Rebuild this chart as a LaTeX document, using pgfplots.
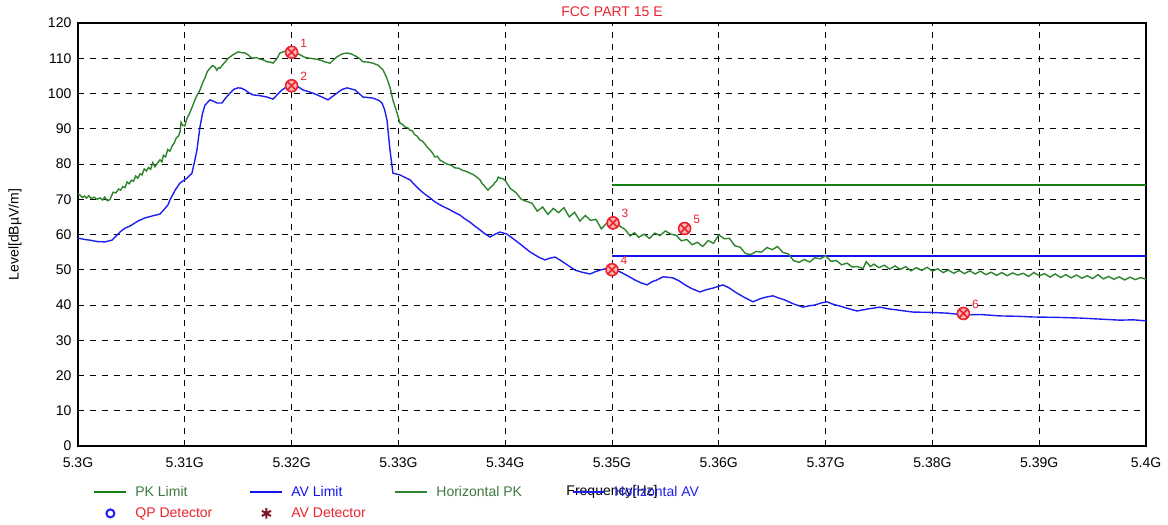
\documentclass[border=0pt]{standalone}
\usepackage{pgfplots}
\pgfplotsset{compat=1.18}
\usepackage{fontspec}
\setmainfont{Liberation Sans}
\definecolor{pkgreen}{RGB}{45,132,45}
\definecolor{limgreen}{RGB}{20,128,20}
\definecolor{avblue}{RGB}{30,30,240}
\definecolor{limblue}{RGB}{20,20,240}
\definecolor{txtgreen}{RGB}{60,120,60}
\definecolor{mkred}{RGB}{235,35,45}
\definecolor{darkred}{RGB}{120,20,35}
\newcommand{\fs}{\fontsize{7}{8.4}\selectfont}
\begin{document}
\begin{tikzpicture}
\begin{axis}[
  scale only axis, width=534pt, height=211.5pt,
  xmin=5.3, xmax=5.4, ymin=0, ymax=120,
  xtick={5.3,5.31,5.32,5.33,5.34,5.35,5.36,5.37,5.38,5.39,5.4},
  xticklabels={5.3G,5.31G,5.32G,5.33G,5.34G,5.35G,5.36G,5.37G,5.38G,5.39G,5.4G},
  ytick={0,10,20,30,40,50,60,70,80,90,100,110,120},
  grid=major, major grid style={black, dashed, line width=0.45pt},
  major tick length=0pt,
  axis line style={black, line width=0.6pt},
  tick label style={font=\fs},
  /pgf/number format/assume math mode=true,
  xticklabel style={yshift=-2.2pt},
  yticklabel style={xshift=0.2pt},
  title={\textcolor{mkred}{FCC PART 15 E}},
  every axis title/.style={at={(axis description cs:0.5,1)}, anchor=center, yshift=5.5pt, font=\fs},
  xlabel={Frequency[Hz]},
  every axis x label/.style={at={(axis description cs:0.5,0)}, anchor=center, yshift=-23pt, font=\fs},
  ylabel={Level[dBµV/m]},
  every axis y label/.style={at={(axis description cs:0,0.5)}, xshift=-31.5pt, rotate=90, anchor=center, font=\fs},
  legend columns=4,
  legend cell align=left,
  legend image code/.code={\draw[mark repeat=2,mark phase=2,line width=1pt,#1] plot coordinates {(0pt,0pt)(8pt,0pt)(16pt,0pt)};},
  legend style={at={(0,0)}, anchor=north west, xshift=7.5pt, yshift=-19.5pt,
    draw=none, fill=none, inner sep=0pt, row sep=3.5pt,
    nodes={inner xsep=0pt, inner ysep=0pt, text height=5.5pt, text depth=1.5pt, font=\fs},
    /tikz/every odd column/.append style={column sep=4pt}},
]
% limits
\addplot[limgreen, line width=1.1pt] coordinates {(5.35,74) (5.4,74)};
\addlegendentry{\makebox[57pt][l]{\textcolor{txtgreen}{PK Limit}}}
\addplot[limblue, line width=1.1pt] coordinates {(5.35,54) (5.4,54)};
\addlegendentry{\makebox[51.5pt][l]{\textcolor{limblue}{AV Limit}}}
% Horizontal PK trace
\addplot[pkgreen, line width=0.7pt] coordinates {
(5.30000,71.5)(5.30019,71.2)(5.30040,70.5)(5.30060,70.9)(5.30080,70.3)(5.30100,71.0)(5.30125,70.2)(5.30150,70.6)
(5.30180,70.0)(5.30206,70.4)(5.30230,69.8)(5.30250,70.6)(5.30275,69.6)(5.30300,69.9)(5.30328,72.0)(5.30355,71.8)
(5.30380,72.9)(5.30400,72.6)(5.30420,73.6)(5.30440,73.3)(5.30460,74.9)(5.30480,74.4)(5.30500,75.4)(5.30520,75.1)
(5.30540,76.6)(5.30560,76.0)(5.30581,77.2)(5.30600,76.9)(5.30620,78.6)(5.30640,78.0)(5.30660,79.0)(5.30680,78.5)
(5.30700,80.4)(5.30720,79.2)(5.30745,80.3)(5.30768,81.2)(5.30785,80.6)(5.30800,82.5)(5.30820,82.0)(5.30840,84.1)
(5.30860,83.6)(5.30880,85.0)(5.30900,85.9)(5.30920,87.4)(5.30940,87.9)(5.30955,89.0)(5.30965,91.8)(5.30980,91.0)
(5.31000,90.8)(5.31021,93.0)(5.31040,94.0)(5.31060,95.5)(5.31080,97.0)(5.31100,98.6)(5.31120,99.8)(5.31142,101.0)
(5.31165,102.9)(5.31190,104.5)(5.31210,106.2)(5.31236,107.2)(5.31260,107.9)(5.31280,107.6)(5.31300,106.6)(5.31315,107.3)
(5.31330,107.2)(5.31355,108.2)(5.31380,109.0)(5.31400,109.8)(5.31420,110.3)(5.31451,111.0)(5.31475,111.4)(5.31500,111.8)
(5.31530,111.6)(5.31564,111.5)(5.31600,110.8)(5.31620,110.2)(5.31639,110.0)(5.31670,110.2)(5.31700,109.8)(5.31735,109.5)
(5.31770,109.0)(5.31800,108.9)(5.31826,108.6)(5.31860,109.8)(5.31891,111.5)(5.31940,112.0)(5.31985,112.3)(5.32013,111.8)
(5.32045,111.5)(5.32079,111.0)(5.32120,110.3)(5.32150,110.1)(5.32172,110.0)(5.32220,109.8)(5.32266,109.5)(5.32310,109.0)
(5.32360,108.6)(5.32400,109.8)(5.32425,110.4)(5.32470,111.2)(5.32519,111.5)(5.32560,111.2)(5.32612,110.4)(5.32640,109.8)
(5.32669,109.0)(5.32720,108.9)(5.32762,108.6)(5.32810,108.0)(5.32856,106.7)(5.32890,104.5)(5.32921,101.8)(5.32950,98.0)
(5.32987,94.5)(5.33015,91.6)(5.33040,91.2)(5.33060,90.5)(5.33085,90.3)(5.33109,89.6)(5.33130,89.4)(5.33150,88.4)
(5.33175,87.9)(5.33202,86.8)(5.33225,86.5)(5.33250,85.6)(5.33275,84.6)(5.33296,84.0)(5.33320,83.1)(5.33340,82.0)
(5.33365,82.2)(5.33390,81.1)(5.33420,80.6)(5.33450,80.0)(5.33490,79.7)(5.33530,78.9)(5.33565,78.8)(5.33600,78.2)
(5.33635,77.9)(5.33670,77.4)(5.33700,77.0)(5.33720,76.6)(5.33745,76.0)(5.33764,75.5)(5.33785,74.4)(5.33800,74.0)
(5.33820,73.2)(5.33839,72.6)(5.33860,73.3)(5.33886,74.0)(5.33905,74.8)(5.33920,75.2)(5.33935,76.3)(5.33951,76.0)
(5.33975,75.9)(5.34000,75.3)(5.3405,73.0)(5.3410,71.9)(5.3415,70.0)(5.3420,69.4)(5.3425,68.9)(5.3430,66.6)
(5.3435,67.8)(5.3440,65.7)(5.3445,67.4)(5.3450,66.2)(5.3455,67.6)(5.3460,65.0)(5.3465,66.3)(5.3470,63.8)
(5.3475,65.4)(5.3480,64.0)(5.3485,64.3)(5.3490,61.6)(5.3495,63.2)(5.3500,62.6)(5.3503,63.9)(5.3508,62.2)
(5.3512,61.5)(5.3517,59.6)(5.3521,60.5)(5.3525,59.2)(5.3530,60.1)(5.3535,58.9)(5.3540,60.4)(5.3545,59.7)
(5.3550,61.0)(5.3555,60.1)(5.3560,59.8)(5.3565,58.2)(5.3570,58.6)(5.3575,57.1)(5.3580,57.8)(5.3585,56.6)
(5.3590,58.3)(5.3595,57.5)(5.3600,59.9)(5.3605,58.8)(5.3610,58.9)(5.3615,56.8)(5.3620,56.4)(5.3625,54.6)
(5.3630,54.3)(5.3635,55.2)(5.3640,55.0)(5.3645,56.3)(5.3650,55.7)(5.3655,56.6)(5.3660,54.9)(5.3665,54.5)
(5.3670,52.6)(5.3675,52.1)(5.3680,52.9)(5.3685,52.2)(5.3690,53.4)(5.3695,53.1)(5.3700,54.0)(5.3705,52.4)
(5.3710,52.6)(5.3715,51.4)(5.3720,51.9)(5.3725,50.8)(5.3730,50.9)(5.3735,50.3)(5.3738,52.3)(5.3742,50.9)
(5.3745,51.6)(5.3750,50.6)(5.3755,51.3)(5.3760,50.2)(5.3765,51.1)(5.3770,50.1)(5.3775,50.9)(5.3780,49.7)
(5.3785,50.6)(5.3790,49.8)(5.3795,50.7)(5.3800,49.6)(5.3805,50.3)(5.3810,49.2)(5.3815,49.9)(5.3820,49.0)
(5.3825,49.8)(5.3830,48.9)(5.3835,49.7)(5.3840,48.8)(5.3845,49.6)(5.3850,48.6)(5.3855,49.3)(5.3860,48.4)
(5.3865,49.2)(5.3870,48.3)(5.3875,49.1)(5.3880,48.5)(5.3885,49.0)(5.3890,48.1)(5.3895,49.2)(5.3900,48.3)
(5.3905,48.9)(5.3910,47.9)(5.3915,48.8)(5.3920,47.8)(5.3925,48.6)(5.3930,47.7)(5.3935,48.5)(5.3940,47.6)
(5.3945,48.3)(5.3950,47.5)(5.3955,48.6)(5.3960,47.4)(5.3965,48.1)(5.3970,47.3)(5.3975,48.0)(5.3980,47.1)
(5.3985,47.9)(5.3990,47.2)(5.3995,47.8)(5.4000,47.3)
};
\addlegendentry{\makebox[68pt][l]{\textcolor{txtgreen}{Horizontal PK}}}
% Horizontal AV trace
\addplot[avblue, line width=0.7pt] coordinates {
(5.30000,59.0)(5.30060,58.6)(5.30112,58.4)(5.30180,58.0)(5.30253,57.9)(5.30318,58.4)(5.30393,60.7)(5.30440,61.8)
(5.30487,62.4)(5.30560,63.8)(5.30627,64.7)(5.30700,65.3)(5.30768,65.8)(5.30843,68.4)(5.30861,69.8)(5.30910,72.6)
(5.30955,74.6)(5.31021,76.0)(5.31067,77.4)(5.31090,80.5)(5.31114,84.0)(5.31142,90.5)(5.31165,94.2)(5.31189,96.7)
(5.31236,98.2)(5.31270,97.8)(5.31301,97.3)(5.31348,97.3)(5.31385,98.8)(5.31423,100.1)(5.31460,101.2)(5.31498,101.6)
(5.31530,101.5)(5.31564,101.0)(5.31600,100.2)(5.31639,99.6)(5.31700,99.4)(5.31770,99.0)(5.31826,98.4)(5.31870,99.8)
(5.31910,101.0)(5.31950,101.8)(5.31985,102.1)(5.32051,102.1)(5.32107,101.0)(5.32150,100.6)(5.32200,100.1)(5.32270,99.2)
(5.32341,98.2)(5.32385,99.2)(5.32425,100.1)(5.32470,101.1)(5.32519,101.6)(5.32594,101.0)(5.32669,99.0)(5.32762,98.7)
(5.32820,98.0)(5.32846,97.3)(5.32870,95.5)(5.32893,92.5)(5.32921,84.0)(5.32949,77.4)(5.33015,76.9)(5.33060,76.2)
(5.33109,75.5)(5.33155,74.0)(5.33202,72.6)(5.33250,71.4)(5.33296,70.4)(5.33340,69.3)(5.33390,68.4)(5.33435,67.7)
(5.33483,67.0)(5.33530,66.2)(5.33577,65.5)(5.33620,64.5)(5.33670,63.5)(5.33720,62.3)(5.33764,61.3)(5.33810,60.2)
(5.33858,59.3)(5.33900,60.0)(5.33951,60.7)(5.34017,60.1)(5.34092,58.4)(5.34140,57.3)(5.34185,56.2)(5.34230,55.1)
(5.34279,54.2)(5.34325,53.4)(5.34373,52.8)(5.34420,53.3)(5.34466,53.6)(5.34500,53.0)(5.34541,52.2)(5.34600,51.0)
(5.34654,49.9)(5.34720,49.3)(5.34794,48.8)(5.34840,49.4)(5.34888,49.9)(5.34940,50.3)(5.35000,50.5)(5.35075,49.4)
(5.35145,48.3)(5.35215,47.1)(5.35270,46.3)(5.35328,45.7)(5.35375,46.6)(5.35421,47.1)(5.35478,48.0)(5.35571,47.7)
(5.35630,46.8)(5.35684,45.7)(5.35750,44.6)(5.35824,43.7)(5.35880,44.3)(5.35946,44.8)(5.36039,45.7)(5.36100,44.8)
(5.36152,43.7)(5.36230,42.3)(5.36320,40.9)(5.36390,41.8)(5.36451,42.3)(5.36507,42.6)(5.36560,42.0)(5.36620,41.4)
(5.36700,40.3)(5.36788,39.4)(5.36850,39.8)(5.36901,40.0)(5.36960,40.6)(5.37013,40.9)(5.37070,40.2)(5.37135,39.7)
(5.37210,39.0)(5.37294,38.3)(5.37400,38.9)(5.37509,39.4)(5.37590,38.9)(5.37669,38.6)(5.37740,38.3)(5.37818,38.0)
(5.37980,37.9)(5.38137,37.7)(5.38287,37.2)(5.38450,37.3)(5.38633,36.9)(5.38800,36.8)(5.38942,36.6)(5.39150,36.5)
(5.39382,36.3)(5.39570,36.0)(5.39757,35.7)(5.39880,35.8)(5.40000,35.5)
};
\addlegendentry{\textcolor{avblue}{Horizontal AV}}
\addlegendimage{only marks, mark=o, avblue, line width=0.9pt, mark size=2pt}
\addlegendentry{\makebox[57pt][l]{\textcolor{mkred}{QP Detector}}}
\addlegendimage{only marks, mark=asterisk, darkred, line width=1pt, mark size=2.6pt}
\addlegendentry{\textcolor{mkred}{AV Detector}}
% detector markers
\addplot[only marks, forget plot, mark=otimes*, mark size=3pt,
  mark options={draw=mkred, fill=red!30, line width=0.8pt},
  nodes near coords, point meta=explicit symbolic,
  nodes near coords style={anchor=center, xshift=6pt, yshift=4.5pt, text=mkred,
    font=\fontsize{6}{6}\selectfont, inner sep=0pt}]
  coordinates {
  (5.32,111.7)[1] (5.32,102.2)[2] (5.3501,63.3)[3] (5.3500,50.0)[4]
  (5.3568,61.7)[5] (5.3829,37.6)[6]
  };
\end{axis}
\pgfresetboundingbox
\path[use as bounding box] ([shift={(-39pt,-39.5pt)}]current axis.south west)
  rectangle ([shift={(545pt,223pt)}]current axis.south west);
\end{tikzpicture}
\end{document}
